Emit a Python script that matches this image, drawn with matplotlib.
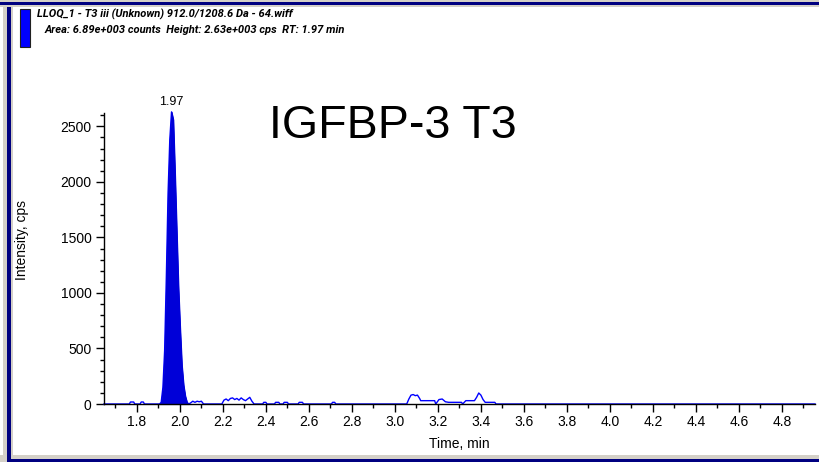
import matplotlib
matplotlib.use("Agg")
import matplotlib.pyplot as plt
from matplotlib.patches import Rectangle
from matplotlib.ticker import MultipleLocator

# ---- data ----
peak_time = [1.905, 1.913, 1.921, 1.929, 1.937, 1.945, 1.953, 1.961, 1.969,
             1.977, 1.985, 1.993, 2.001, 2.009, 2.017, 2.025, 2.033, 2.041]
peak_intensity = [0, 15, 150, 480, 1150, 1900, 2380, 2630, 2560,
                  2080, 1560, 1050, 680, 350, 170, 70, 15, 0]

pre_time = [1.647, 1.765, 1.770, 1.785, 1.790, 1.815, 1.820, 1.830, 1.835, 1.905]
pre_intensity = [0, 0, 18, 18, 0, 0, 18, 18, 0, 0]

post_time = [2.041, 2.050, 2.060, 2.070, 2.080, 2.090, 2.100, 2.110, 2.195,
             2.205, 2.215, 2.225, 2.235, 2.245, 2.255, 2.265, 2.275, 2.285,
             2.295, 2.305, 2.315, 2.325, 2.335, 2.345,
             2.385, 2.390, 2.400, 2.405, 2.440, 2.445, 2.460, 2.465,
             2.480, 2.485, 2.500, 2.505, 2.550, 2.555, 2.570, 2.575,
             2.705, 2.710, 2.720, 2.725,
             3.055, 3.065, 3.075, 3.085, 3.095, 3.105, 3.115, 3.120, 3.185,
             3.190, 3.205, 3.220, 3.235, 3.250, 3.255, 3.310, 3.315, 3.330,
             3.335, 3.370, 3.380, 3.390, 3.400, 3.410, 3.420, 3.430, 3.465,
             3.470, 4.954]
post_intensity = [0, 10, 25, 15, 25, 20, 25, 0, 0,
                  35, 45, 30, 50, 55, 40, 50, 35, 55,
                  40, 30, 45, 60, 25, 0,
                  0, 15, 15, 0, 0, 15, 15, 0,
                  0, 15, 15, 0, 0, 15, 15, 0,
                  0, 15, 15, 0,
                  0, 45, 80, 85, 75, 80, 50, 30, 30,
                  0, 40, 45, 20, 15, 15, 15, 0, 30,
                  30, 30, 60, 99, 80, 40, 15, 15, 15,
                  0, 0]

x_range = (1.647, 4.954)
y_range = (0, 2620)
apex_label = "1.97"
header_line1 = "LLOQ_1 - T3 iii (Unknown) 912.0/1208.6 Da - 64.wiff"
header_line2 = "Area: 6.89e+003 counts  Height: 2.63e+003 cps  RT: 1.97 min"
big_title = "IGFBP-3 T3"

W, H = 819, 462
fig = plt.figure(figsize=(W / 100, H / 100), dpi=100)
fig.patch.set_facecolor("white")

navy = "#000080"
gray = "#d4d0c8"
# window frame
fig.patches.append(Rectangle((0, 1 - 7 / H), 1, 7 / H, transform=fig.transFigure,
                             facecolor=gray, edgecolor="none", zorder=0))
fig.patches.append(Rectangle((0, 1 - 5 / H), 1, 3 / H, transform=fig.transFigure,
                             facecolor=navy, edgecolor="none", zorder=1))
fig.patches.append(Rectangle((3 / W, 0), 10 / W, 1 - 7 / H, transform=fig.transFigure,
                             facecolor=gray, edgecolor="none", zorder=0))
fig.patches.append(Rectangle((7 / W, 0), 4 / W, 1 - 7 / H, transform=fig.transFigure,
                             facecolor=navy, edgecolor="none", zorder=1))
fig.patches.append(Rectangle((0, 0), 1, 7 / H, transform=fig.transFigure,
                             facecolor=gray, edgecolor="none", zorder=0))
fig.patches.append(Rectangle((7 / W, 0), 1, 3 / H, transform=fig.transFigure,
                             facecolor=navy, edgecolor="none", zorder=1))
# legend swatch
fig.patches.append(Rectangle((20 / W, 1 - 47 / H), 10 / W, 38 / H, transform=fig.transFigure,
                             facecolor="#0000ff", edgecolor="#202020", linewidth=0.8, zorder=2))

hdr_font = ["Roboto", "DejaVu Sans"]
fig.text(37 / W, 1 - 14 / H, header_line1, family=hdr_font, fontsize=8,
         fontweight="bold", fontstyle="italic", va="center", ha="left")
fig.text(45 / W, 1 - 30 / H, header_line2, family=hdr_font, fontsize=8,
         fontweight="bold", fontstyle="italic", va="center", ha="left")

ax = fig.add_axes([104 / W, (H - 404) / H, (815 - 104) / W, (404 - 113) / H])
ax.set_facecolor("none")

blue = "#0000ff"
all_t = pre_time + peak_time + post_time
all_i = pre_intensity + peak_intensity + post_intensity
ax.plot(all_t, all_i, color=blue, lw=1.0, clip_on=False, zorder=2)
ax.fill_between(peak_time, peak_intensity, 0, facecolor="#0000d8",
                edgecolor="#0000d8", linewidth=0.8, clip_on=False, zorder=2)

ax.set_xlim(*x_range)
ax.set_ylim(*y_range)
for s in ["top", "right"]:
    ax.spines[s].set_visible(False)
for s in ["left", "bottom"]:
    ax.spines[s].set_linewidth(1.0)
    ax.spines[s].set_zorder(3)

ax.xaxis.set_major_locator(MultipleLocator(0.2))
ax.xaxis.set_minor_locator(MultipleLocator(0.1))
ax.yaxis.set_major_locator(MultipleLocator(500))
ax.yaxis.set_minor_locator(MultipleLocator(100))
ax.xaxis.set_major_formatter(plt.FuncFormatter(lambda v, p: f"{v:.1f}"))
ax.tick_params(axis="x", which="major", length=6, width=1, labelsize=10, pad=2)
ax.tick_params(axis="x", which="minor", length=3, width=1)
ax.tick_params(axis="y", which="major", length=6, width=1, labelsize=10, pad=3)
ax.tick_params(axis="y", which="minor", length=3, width=1)
for lab in ax.get_xticklabels() + ax.get_yticklabels():
    lab.set_family("Liberation Sans")

ax.set_xlabel("Time, min", family="Liberation Sans", fontsize=10, labelpad=6)
fig.text(22 / W, 1 - 240 / H, "Intensity, cps", family="Liberation Sans", fontsize=10,
         rotation=90, ha="center", va="center")

apex_idx = peak_intensity.index(max(peak_intensity))
ax.annotate(apex_label, (peak_time[apex_idx], peak_intensity[apex_idx]),
            xytext=(0, 3), textcoords="offset points", ha="center", va="bottom",
            family="Liberation Sans", fontsize=9, annotation_clip=False)

fig.text(269 / W, 1 - 126 / H, big_title, family="Liberation Sans", fontsize=33.5,
         ha="left", va="center")

fig.savefig("out.png", dpi=100)
